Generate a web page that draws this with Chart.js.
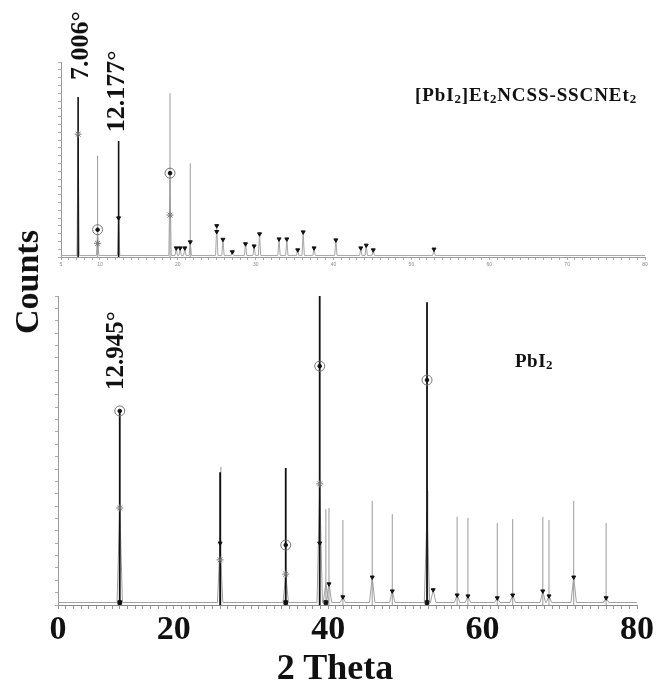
<!DOCTYPE html>
<html><head><meta charset="utf-8">
<script src="https://cdn.jsdelivr.net/npm/chart.js@4.4.1/dist/chart.umd.min.js"></script>
<style>
html,body{margin:0;padding:0;background:#fff;}
#wrap{position:relative;width:656px;height:681px;overflow:hidden;font-family:"Liberation Serif","Times New Roman",serif;background:#fff;}
canvas{position:absolute;left:0;}
#cTop{top:0;}
#cBot{top:285px;}
.lbl{position:absolute;font-weight:bold;color:#111;white-space:nowrap;line-height:1;}
.lbl sub{font-size:0.68em;vertical-align:-0.18em;line-height:0;}
</style></head><body>
<div id="wrap">
<canvas id="cTop" width="656" height="285"></canvas>
<canvas id="cBot" width="656" height="396"></canvas>
<div class="lbl" style="left:27px;top:282px;font-size:34px;transform:translate(-50%,-50%) rotate(-90deg);">Counts</div>
<div class="lbl" style="left:415px;top:85px;font-size:19px;letter-spacing:0.9px;">[PbI<sub>2</sub>]Et<sub>2</sub>NCSS-SSCNEt<sub>2</sub></div>
<div class="lbl" style="left:515px;top:351px;font-size:19px;letter-spacing:0.5px;">PbI<sub>2</sub></div>
<div class="lbl" style="left:335px;top:649px;font-size:36px;transform:translateX(-50%);">2 Theta</div>
</div>
<script>
// ---------- top panel: [PbI2]Et2NCSS-SSCNEt2 ----------
const topStickDarkX = [7.2, 12.4];
const topStickDarkY = [82, 59.5];
const topStickGrayX = [9.7, 19.0, 21.6];
const topStickGrayY = [52, 84, 48];
const topProfileX = [7.2, 9.7, 12.4, 19.0, 19.8, 20.3, 20.9, 21.6, 25.0, 25.8, 27.0, 28.7, 29.8, 30.5, 33.0, 34.0, 35.4, 36.1, 37.5, 40.3, 43.5, 44.2, 45.1, 52.9];
const topProfileY = [63, 14, 20, 43, 4.6, 4.6, 4.6, 7.7, 16, 9, 2.6, 6.7, 5.6, 11.8, 9.2, 9.2, 3.6, 12.8, 4.6, 8.7, 4.6, 6, 3.6, 4];
const topCircleX = [9.7, 19.0];
const topCircleY = [14, 43];
const topStarX = [7.2, 9.7, 19.0];
const topStarY = [63, 7, 21.5];
const topPinX = [12.4, 19.8, 20.3, 20.9, 21.6, 25.0, 25.0, 25.8, 27.0, 28.7, 29.8, 30.5, 33.0, 34.0, 35.4, 36.1, 37.5, 40.3, 43.5, 44.2, 45.1, 52.9];
const topPinY = [20, 4.6, 4.6, 4.6, 7.7, 16, 13, 9, 2.6, 6.7, 5.6, 11.8, 9.2, 9.2, 3.6, 12.8, 4.6, 8.7, 4.6, 6, 3.6, 4];
const topTickLabels = [5, 10, 20, 30, 40, 50, 60, 70, 80];
const topPeakText = ['7.006°', '12.177°'];
const topPeakTextX = [7.57, 12.19];
const topPeakTextY = [90.8, 64];

// ---------- bottom panel: PbI2 ----------
const botStickDarkX = [13.0, 26.0, 34.5, 38.9, 52.8];
const botStickDarkY = [62.8, 43, 44.3, 100, 98];
const botStickGrayX = [26.1, 39.7, 40.1, 41.9, 45.7, 48.3, 52.9, 56.7, 58.1, 61.9, 63.9, 67.8, 68.6, 71.8, 76.0];
const botStickGrayY = [44.7, 31, 31.4, 27.5, 33.7, 29.4, 37, 28.5, 28.2, 26.5, 27.8, 28.5, 27.5, 33.7, 26.5];
const botProfileX = [13.0, 26.0, 34.5, 38.9, 39.7, 40.1, 41.9, 45.7, 48.3, 52.8, 53.6, 56.7, 58.1, 61.9, 63.9, 67.8, 68.6, 71.8, 76.0];
const botProfileY = [31.4, 20, 10, 39, 7, 7, 2.6, 9, 4.5, 30, 4.9, 3.2, 2.9, 2.3, 3.2, 4.5, 2.9, 9, 2.3];
const botCircleX = [13.0, 34.5, 38.9, 52.8];
const botCircleY = [62.8, 19.4, 77.3, 72.8];
const botStarX = [13.0, 26.0, 34.5, 38.9];
const botStarY = [31.4, 14.6, 10, 39.2];
const botPinX = [26.0, 38.9, 40.1, 41.9, 45.7, 48.3, 53.6, 56.7, 58.1, 61.9, 63.9, 67.8, 68.6, 71.8, 76.0];
const botPinY = [20, 20, 6.8, 2.6, 9, 4.5, 4.9, 3.2, 2.9, 2.3, 3.2, 4.5, 2.9, 9, 2.3];
const botBaseBlobX = [13.0, 34.5, 39.7, 52.8];
const botTickValues = [5, 20, 40, 60, 80];
const botTickLabels = ['0', '20', '40', '60', '80'];
const botPeakText = ['12.945°'];
const botPeakTextX = [12.64];
const botPeakTextY = [69.6];

// ---------- helpers ----------
function pts(xs, ys) { return xs.map((x, i) => ({ x: x, y: ys[i] })); }
function sticks(xs, ys) {
  const out = [];
  xs.forEach((x, i) => { out.push({ x: x, y: 0 }, { x: x, y: ys[i] }, { x: x, y: null }); });
  return out;
}
function profile(xs, ys, w, base) {
  const out = [{ x: 5, y: base }];
  xs.forEach((x, i) => { out.push({ x: x - w, y: base }, { x: x, y: ys[i] }, { x: x + w, y: base }); });
  out.push({ x: 80, y: base });
  return out;
}
function labelPlugin(texts, xs, ys, font) {
  return {
    id: 'peakLabels',
    afterDatasetsDraw(chart) {
      const ctx = chart.ctx, sx = chart.scales.x, sy = chart.scales.y;
      ctx.save();
      ctx.font = font;
      ctx.fillStyle = '#111';
      ctx.textAlign = 'left';
      ctx.textBaseline = 'middle';
      texts.forEach((t, i) => {
        ctx.save();
        ctx.translate(sx.getPixelForValue(xs[i]), sy.getPixelForValue(ys[i]));
        ctx.rotate(-Math.PI / 2);
        ctx.fillText(t, 0, 0);
        ctx.restore();
      });
      ctx.restore();
    }
  };
}
function markerSets(circX, circY, starX, starY, pinX, pinY, extra) {
  const sets = [
    { type: 'scatter', data: pts(pinX, pinY), pointStyle: 'triangle', rotation: 180, pointRadius: 2.3, backgroundColor: '#111', borderColor: '#111', borderWidth: 1 },
    { type: 'scatter', data: pts(circX, circY), pointStyle: 'circle', pointRadius: 1.8, backgroundColor: '#111', borderColor: '#111', borderWidth: 1 },
    { type: 'scatter', data: pts(circX, circY), pointStyle: 'circle', pointRadius: 5, backgroundColor: 'rgba(0,0,0,0)', borderColor: '#777', borderWidth: 1 },
    { type: 'scatter', data: pts(starX, starY), pointStyle: 'star', pointRadius: 3.5, backgroundColor: 'rgba(0,0,0,0)', borderColor: '#777', borderWidth: 1 }
  ];
  return sets.concat(extra || []);
}

const commonPlugins = { legend: { display: false }, tooltip: { enabled: false }, title: { display: false } };

// ---------- top chart ----------
new Chart(document.getElementById('cTop'), {
  type: 'scatter',
  data: {
    datasets: markerSets(topCircleX, topCircleY, topStarX, topStarY, topPinX, topPinY).concat([
      { type: 'scatter', showLine: true, spanGaps: false, data: sticks(topStickDarkX, topStickDarkY), borderColor: '#111', borderWidth: 1.6, pointRadius: 0 },
      { type: 'scatter', showLine: true, spanGaps: false, data: sticks(topStickGrayX, topStickGrayY), borderColor: '#9a9a9a', borderWidth: 1, pointRadius: 0 },
      { type: 'scatter', showLine: true, data: profile(topProfileX, topProfileY, 0.15, 0.8), borderColor: '#a5a5a5', borderWidth: 1, pointRadius: 0 }
    ])
  },
  options: {
    responsive: false, animation: false, events: [], devicePixelRatio: 1,
    layout: { padding: { top: 62, right: 11, left: 0, bottom: 0 } },
    plugins: commonPlugins,
    scales: {
      x: {
        type: 'linear', min: 5, max: 80,
        afterFit: s => { s.height = 28; s.paddingLeft = 0; s.paddingRight = 0; },
        ticks: { stepSize: 1, autoSkip: false, maxRotation: 0, minRotation: 0, padding: 2,
          font: { size: 5, family: 'Liberation Sans' }, color: '#888',
          callback: v => topTickLabels.includes(v) ? String(v) : '' },
        grid: { drawOnChartArea: false, drawTicks: true, tickLength: 3, color: '#aaa' },
        border: { color: '#999', width: 1 }
      },
      y: {
        min: 0, max: 100,
        afterFit: s => { s.width = 61; s.paddingTop = 0; s.paddingBottom = 0; },
        ticks: { display: false, stepSize: 4 },
        grid: { drawOnChartArea: false, drawTicks: true, tickLength: 3, color: '#aaa' },
        border: { color: '#999', width: 1 }
      }
    }
  },
  plugins: [labelPlugin(topPeakText, topPeakTextX, topPeakTextY, 'bold 26px "Liberation Serif"')]
});

// ---------- bottom chart ----------
new Chart(document.getElementById('cBot'), {
  type: 'scatter',
  data: {
    datasets: markerSets(botCircleX, botCircleY, botStarX, botStarY, botPinX, botPinY, [
      { type: 'scatter', data: botBaseBlobX.map(x => ({ x: x, y: 0.8 })), pointStyle: 'rect', pointRadius: 2.6, backgroundColor: '#111', borderColor: '#111' }
    ]).concat([
      { type: 'scatter', showLine: true, spanGaps: false, data: sticks(botStickDarkX, botStickDarkY), borderColor: '#111', borderWidth: 1.8, pointRadius: 0 },
      { type: 'scatter', showLine: true, spanGaps: false, data: sticks(botStickGrayX, botStickGrayY), borderColor: '#9a9a9a', borderWidth: 1, pointRadius: 0 },
      { type: 'scatter', showLine: true, data: profile(botProfileX, botProfileY, 0.35, 0.8), borderColor: '#a0a0a0', borderWidth: 1, pointRadius: 0 }
    ])
  },
  options: {
    responsive: false, animation: false, events: [], devicePixelRatio: 1,
    layout: { padding: { top: 11, right: 19, left: 0, bottom: 0 } },
    plugins: commonPlugins,
    scales: {
      x: {
        type: 'linear', min: 5, max: 80,
        afterFit: s => { s.height = 76; s.paddingLeft = 0; s.paddingRight = 0; },
        ticks: { stepSize: 1, autoSkip: false, maxRotation: 0, minRotation: 0, padding: 1,
          font: { size: 34, weight: 'bold', family: 'Liberation Serif' }, color: '#111',
          callback: v => { const i = botTickValues.indexOf(v); return i >= 0 ? botTickLabels[i] : ''; } },
        grid: { drawOnChartArea: false, drawTicks: true, tickLength: 4, color: '#999' },
        border: { color: '#888', width: 1 }
      },
      y: {
        min: 0, max: 100,
        afterFit: s => { s.width = 58; s.paddingTop = 0; s.paddingBottom = 0; },
        ticks: { display: false, stepSize: 4 },
        grid: { drawOnChartArea: false, drawTicks: true, tickLength: 3, color: '#aaa' },
        border: { color: '#999', width: 1 }
      }
    }
  },
  plugins: [labelPlugin(botPeakText, botPeakTextX, botPeakTextY, 'bold 25px "Liberation Serif"')]
});
</script>
</body></html>
